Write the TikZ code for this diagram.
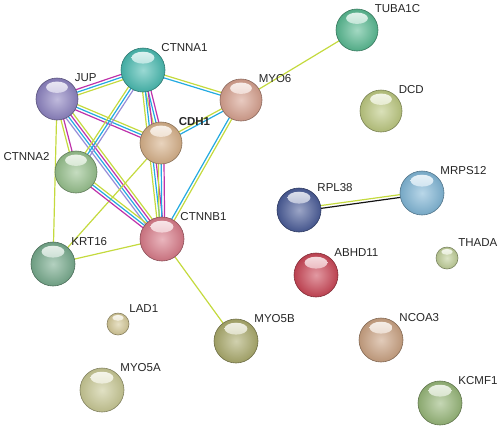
\documentclass[tikz,border=0pt]{standalone}
\usepackage{fontspec}
\setmainfont{Liberation Sans}
\usetikzlibrary{calc,backgrounds}
% evidence colours
\definecolor{tmine}{RGB}{196,218,62}
\definecolor{dbase}{RGB}{35,170,225}
\definecolor{expt}{RGB}{190,50,170}
\definecolor{homol}{RGB}{150,140,215}
\definecolor{coexp}{RGB}{20,20,20}
% ball colours
\definecolor{cTUBA}{RGB}{88,185,145}
\definecolor{cCTA1}{RGB}{72,186,176}
\definecolor{cJUP}{RGB}{140,130,192}
\definecolor{cMYO6}{RGB}{214,160,142}
\definecolor{cCDH1}{RGB}{214,176,136}
\definecolor{cDCD}{RGB}{188,200,128}
\definecolor{cCTA2}{RGB}{150,192,140}
\definecolor{cMRPS}{RGB}{128,182,214}
\definecolor{cRPL}{RGB}{74,92,152}
\definecolor{cCTB1}{RGB}{216,122,136}
\definecolor{cKRT}{RGB}{118,170,140}
\definecolor{cABHD}{RGB}{202,70,86}
\definecolor{cTHADA}{RGB}{190,205,150}
\definecolor{cLAD}{RGB}{212,200,150}
\definecolor{cMYOb}{RGB}{170,170,108}
\definecolor{cNCOA}{RGB}{202,162,130}
\definecolor{cMYOa}{RGB}{200,200,148}
\definecolor{cKCMF}{RGB}{150,182,120}
% one line per kind of evidence, side by side
\newcommand{\bond}[3]{%
  \foreach \c [count=\i] in {#3} {\xdef\nbond{\i}}%
  \foreach \c [count=\i] in {#3} {%
    \pgfmathsetmacro\off{(\i-(\nbond+1)/2)*2.8}%
    \draw[\c, line width=1.2pt] ($(#1)!\off pt!90:(#2)$) -- ($(#2)!\off pt!-90:(#1)$);
  }%
}
\begin{document}
\begin{tikzpicture}[x=1pt, y=-1pt, line cap=round,
	ball/.style 2 args={circle, inner sep=0pt, minimum size={2pt*#2}, draw=#1!65!black, line width=0.6pt,
		inner color=#1!55!white, outer color=#1!92!black,
		path picture={\shade[top color=white!85!#1, bottom color=#1!75!white]
			($(path picture bounding box.center)+(0,-0.56*#2)$) ellipse [x radius={0.52pt*#2}, y radius={0.27pt*#2}];}},
	every label/.style={font=\fontsize{11.5}{13}\selectfont, inner sep=2.5pt, text=black!85},
	label distance=0pt]
	\useasboundingbox (0,0) rectangle (500,432);
	\node[ball={cTUBA}{21}, label=45:TUBA1C] (tuba1c) at (357,30) {};
	\node[ball={cCTA1}{22}, label=45:CTNNA1] (ctnna1) at (143,70) {};
	\node[ball={cJUP}{21}, label=45:JUP] (jup) at (57,99) {};
	\node[ball={cMYO6}{21}, label=45:MYO6] (myo6) at (241,100) {};
	\node[ball={cCDH1}{21}, label={[font=\fontsize{11.5}{13}\selectfont\bfseries]45:CDH1}] (cdh1) at (161,143) {};
	\node[ball={cDCD}{21}, label=45:DCD] (dcd) at (381,111) {};
	\node[ball={cCTA2}{21}, label={[label distance=4pt]160:CTNNA2}] (ctnna2) at (76,172) {};
	\node[ball={cMRPS}{22}, label=45:MRPS12] (mrps12) at (422,193) {};
	\node[ball={cRPL}{22}, label=45:RPL38] (rpl38) at (299,210) {};
	\node[ball={cCTB1}{22}, label=45:CTNNB1] (ctnnb1) at (162,239) {};
	\node[ball={cKRT}{22}, label=45:KRT16] (krt16) at (53,264) {};
	\node[ball={cABHD}{22}, label=45:ABHD11] (abhd11) at (316,275) {};
	\node[ball={cTHADA}{11}, label={[label distance=1pt]45:THADA}] (thada) at (447,258) {};
	\node[ball={cLAD}{11}, label={[label distance=1pt]45:LAD1}] (lad1) at (118,324) {};
	\node[ball={cMYOb}{22}, label=45:MYO5B] (myo5b) at (236,341) {};
	\node[ball={cNCOA}{22}, label=45:NCOA3] (ncoa3) at (381,340) {};
	\node[ball={cMYOa}{22}, label=45:MYO5A] (myo5a) at (102,390) {};
	\node[ball={cKCMF}{22}, label=45:KCMF1] (kcmf1) at (440,403) {};
	\begin{pgfonlayer}{background}
		\bond{jup}{ctnna1}{tmine,dbase,expt}
		\bond{jup}{cdh1}{expt,dbase,tmine}
		\bond{jup}{ctnnb1}{homol,dbase,expt,tmine}
		\bond{jup}{ctnna2}{tmine,expt}
		\bond{jup}{krt16}{tmine}
		\bond{ctnna1}{myo6}{dbase,tmine}
		\bond{ctnna1}{cdh1}{tmine,dbase,expt}
		\bond{ctnna1}{ctnnb1}{tmine,dbase,expt}
		\bond{ctnna1}{ctnna2}{tmine,dbase,homol}
		\bond{cdh1}{ctnnb1}{tmine,dbase,expt}
		\bond{cdh1}{myo6}{dbase,tmine}
		\bond{cdh1}{krt16}{tmine}
		\bond{ctnna2}{ctnnb1}{expt,dbase,tmine}
		\bond{krt16}{ctnnb1}{tmine}
		\bond{myo6}{ctnnb1}{dbase,tmine}
		\bond{myo6}{tuba1c}{tmine}
		\bond{ctnnb1}{myo5b}{tmine}
		\bond{rpl38}{mrps12}{coexp,tmine}
	\end{pgfonlayer}
\end{tikzpicture}
\end{document}
